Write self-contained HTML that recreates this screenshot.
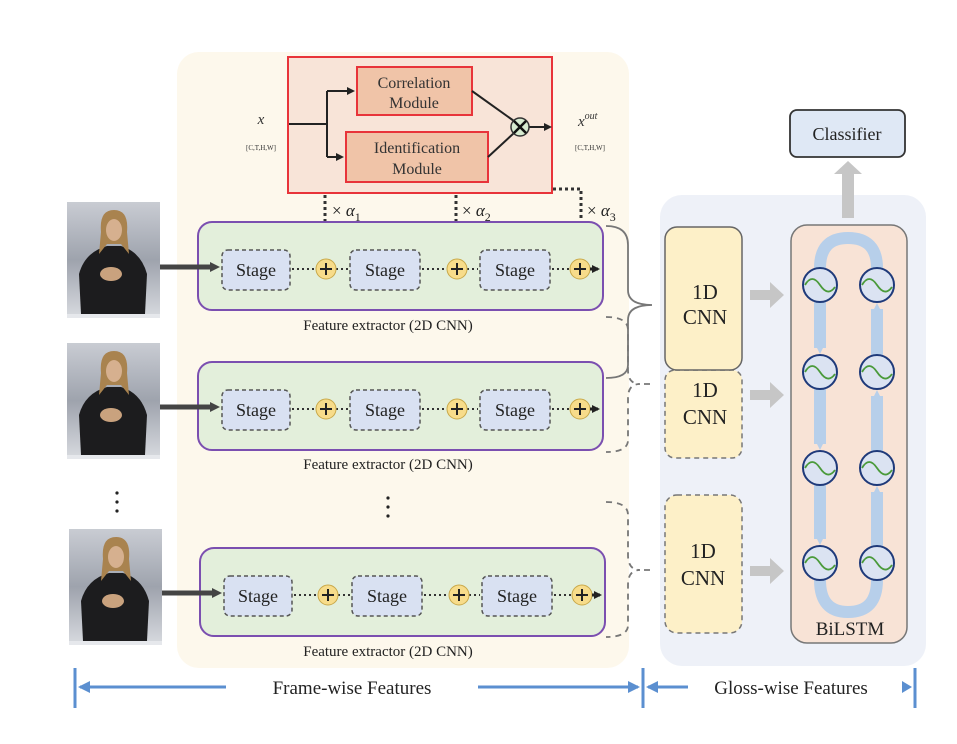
<!DOCTYPE html>
<html><head><meta charset="utf-8"><style>
body{margin:0;background:#fff}
svg{display:block;font-family:"Liberation Serif",serif}
</style></head><body>
<svg width="957" height="744" viewBox="0 0 957 744" xmlns="http://www.w3.org/2000/svg">
<defs>
<linearGradient id="bg" x1="0" y1="0" x2="0" y2="1"><stop offset="0" stop-color="#c9ccd3"/><stop offset="0.5" stop-color="#9ea3ad"/><stop offset="1" stop-color="#d8dbe0"/></linearGradient>
<marker id="ah" markerWidth="8" markerHeight="8" refX="6" refY="4" orient="auto" markerUnits="userSpaceOnUse"><path d="M0,0 L8,4 L0,8z" fill="#222"/></marker>
<marker id="ahd" markerWidth="10" markerHeight="10" refX="8" refY="5" orient="auto" markerUnits="userSpaceOnUse"><path d="M0,0 L10,5 L0,10z" fill="#333"/></marker>
<marker id="ab" markerWidth="12" markerHeight="12" refX="10" refY="6" orient="auto" markerUnits="userSpaceOnUse"><path d="M0,0 L12,6 L0,12z" fill="#5b8fd0"/></marker>
<marker id="lb" markerWidth="12" markerHeight="12" refX="6" refY="6" orient="auto" markerUnits="userSpaceOnUse"><path d="M0,0 L12,6 L0,12z" fill="#b7cfea"/></marker>
<g id="person">
<rect x="0" y="0" width="93" height="116" fill="url(#bg)"/>
<path d="M14,112 L12,72 Q18,50 40,44 L54,44 Q74,50 80,72 L78,112z" fill="#1c1c1e"/>
<path d="M34,30 Q32,8 47,8 Q62,8 60,30 L62,52 L54,42 L40,42 L32,52z" fill="#a9834f"/>
<ellipse cx="47" cy="28" rx="8" ry="11" fill="#d6b08f"/>
<ellipse cx="44" cy="72" rx="11" ry="7" fill="#c9a27e"/>
<rect x="0" y="112" width="93" height="4" fill="#e6e8ec"/>
</g>
<g id="stagerow">
<rect x="0" y="0" width="405" height="88" rx="14" fill="#e3efdb" stroke="#7b4fb0" stroke-width="2"/>
<rect x="24" y="28" width="68" height="40" rx="6" fill="#d9e1f2" stroke="#555" stroke-width="1.5" stroke-dasharray="4,3"/>
<rect x="152" y="28" width="70" height="40" rx="6" fill="#d9e1f2" stroke="#555" stroke-width="1.5" stroke-dasharray="4,3"/>
<rect x="282" y="28" width="70" height="40" rx="6" fill="#d9e1f2" stroke="#555" stroke-width="1.5" stroke-dasharray="4,3"/>
<text x="58" y="54" font-size="18" text-anchor="middle" fill="#222">Stage</text>
<text x="187" y="54" font-size="18" text-anchor="middle" fill="#222">Stage</text>
<text x="317" y="54" font-size="18" text-anchor="middle" fill="#222">Stage</text>
<g stroke="#333" stroke-width="2" stroke-dasharray="2,3"><line x1="94" y1="47" x2="118" y2="47"/><line x1="138" y1="47" x2="150" y2="47"/><line x1="224" y1="47" x2="249" y2="47"/><line x1="269" y1="47" x2="280" y2="47"/><line x1="354" y1="47" x2="372" y2="47"/></g>
<g fill="#f7dc8a" stroke="#c9a94a" stroke-width="1"><circle cx="128" cy="47" r="10"/><circle cx="259" cy="47" r="10"/><circle cx="382" cy="47" r="10"/></g>
<g stroke="#222" stroke-width="2"><path d="M122,47h12M128,41v12M253,47h12M259,41v12M376,47h12M382,41v12"/></g>
<line x1="392" y1="47" x2="400" y2="47" stroke="#222" stroke-width="3" marker-end="url(#ah)"/>
</g>
<g id="cell"><circle r="17" fill="#dbe3f2" stroke="#1f3a7a" stroke-width="2"/><path d="M-15,0 Q-8,-12 0,0 T15,2" fill="none" stroke="#4a9a3a" stroke-width="1.8"/></g>
</defs>

<rect x="177" y="52" width="452" height="616" rx="22" fill="#fdf8ec"/>
<rect x="660" y="195" width="266" height="471" rx="22" fill="#eef1f8"/>

<rect x="288" y="57" width="264" height="136" fill="#f8e4d8" stroke="#e8343a" stroke-width="2"/>
<rect x="357" y="67" width="115" height="48" fill="#f0c4a8" stroke="#e8343a" stroke-width="2"/>
<rect x="346" y="132" width="142" height="50" fill="#f0c4a8" stroke="#e8343a" stroke-width="2"/>
<text x="414" y="88" font-size="16" text-anchor="middle" fill="#333">Correlation</text>
<text x="414" y="108" font-size="16" text-anchor="middle" fill="#333">Module</text>
<text x="417" y="153" font-size="16" text-anchor="middle" fill="#333">Identification</text>
<text x="417" y="174" font-size="16" text-anchor="middle" fill="#333">Module</text>
<g stroke="#222" stroke-width="2" fill="none">
<path d="M289,124 H327 M327,91 V157"/>
<line x1="327" y1="91" x2="353" y2="91" marker-end="url(#ah)"/>
<line x1="327" y1="157" x2="342" y2="157" marker-end="url(#ah)"/>
<path d="M472,91 L514,121 M488,157 L514,133"/>
<line x1="528" y1="127" x2="550" y2="127" marker-end="url(#ah)"/>
</g>
<circle cx="520" cy="127" r="9" fill="#d7ebd0" stroke="#333" stroke-width="1.5"/>
<path d="M514,121 L526,133 M526,121 L514,133" stroke="#111" stroke-width="2.5"/>
<text x="261" y="124" font-size="15" font-style="italic" text-anchor="middle" fill="#333">x</text>
<text x="261" y="150" font-size="7" text-anchor="middle" fill="#333">[C,T,H,W]</text>
<text x="578" y="126" font-size="15" font-style="italic" fill="#333">x<tspan font-size="10" dy="-7">out</tspan></text>
<text x="590" y="150" font-size="7" text-anchor="middle" fill="#333">[C,T,H,W]</text>

<g stroke="#333" stroke-width="3" stroke-dasharray="3,3" fill="none">
<line x1="325" y1="195" x2="325" y2="240" marker-end="url(#ahd)"/>
<line x1="456" y1="195" x2="456" y2="240" marker-end="url(#ahd)"/>
<path d="M553,189 H581 V240" marker-end="url(#ahd)"/>
</g>
<g font-size="17" fill="#222"><text x="332" y="216">× <tspan font-style="italic">α</tspan><tspan font-size="12" dy="5">1</tspan></text>
<text x="462" y="216">× <tspan font-style="italic">α</tspan><tspan font-size="12" dy="5">2</tspan></text>
<text x="587" y="216">× <tspan font-style="italic">α</tspan><tspan font-size="12" dy="5">3</tspan></text></g>

<use href="#stagerow" x="198" y="222"/>
<use href="#stagerow" x="198" y="362"/>
<use href="#stagerow" x="200" y="548"/>
<g font-size="15" fill="#222" text-anchor="middle">
<text x="388" y="330">Feature extractor (2D CNN)</text>
<text x="388" y="469">Feature extractor (2D CNN)</text>
<text x="388" y="656">Feature extractor (2D CNN)</text></g>
<g fill="#222"><circle cx="388" cy="498" r="1.6"/><circle cx="388" cy="507" r="1.6"/><circle cx="388" cy="516" r="1.6"/>
<circle cx="117" cy="493" r="1.6"/><circle cx="117" cy="502" r="1.6"/><circle cx="117" cy="511" r="1.6"/></g>

<use href="#person" x="67" y="202"/>
<use href="#person" x="67" y="343"/>
<use href="#person" x="69" y="529"/>
<g stroke="#444" stroke-width="5"><line x1="160" y1="267" x2="212" y2="267"/><line x1="160" y1="407" x2="212" y2="407"/><line x1="162" y1="593" x2="214" y2="593"/></g>
<g fill="#444"><path d="M210,262 L220,267 L210,272z"/><path d="M210,402 L220,407 L210,412z"/><path d="M212,588 L222,593 L212,598z"/></g>

<path d="M606,226 Q628,226 628,245 V290 Q628,305 652,305 Q628,305 628,320 V365 Q628,378 606,378" fill="none" stroke="#777" stroke-width="1.8"/>
<path d="M606,317 Q628,317 628,330 V370 Q628,384 640,384 Q628,384 628,398 V440 Q628,452 606,452" fill="none" stroke="#777" stroke-width="1.8" stroke-dasharray="6,5"/>
<path d="M606,502 Q628,502 628,515 V555 Q628,570 640,570 Q628,570 628,585 V625 Q628,637 606,637" fill="none" stroke="#777" stroke-width="1.8" stroke-dasharray="6,5"/>
<path d="M644,384 h6 M644,570 h6" stroke="#777" stroke-width="1.8"/>

<rect x="665" y="370" width="77" height="88" rx="10" fill="#fdf0c8" stroke="#777" stroke-width="1.5" stroke-dasharray="5,4"/>
<rect x="665" y="227" width="77" height="143" rx="12" fill="#fdf0c8" stroke="#666" stroke-width="1.5"/>
<rect x="665" y="495" width="77" height="138" rx="12" fill="#fdf0c8" stroke="#777" stroke-width="1.5" stroke-dasharray="5,4"/>
<g font-size="21" fill="#222" text-anchor="middle">
<text x="705" y="299">1D</text><text x="705" y="324">CNN</text>
<text x="705" y="397">1D</text><text x="705" y="424">CNN</text>
<text x="703" y="558">1D</text><text x="703" y="585">CNN</text></g>
<g fill="#c6c6c6"><path d="M750,290 h20 v-8 l14,13 l-14,13 v-8 h-20z"/><path d="M750,390 h20 v-8 l14,13 l-14,13 v-8 h-20z"/><path d="M750,566 h20 v-8 l14,13 l-14,13 v-8 h-20z"/>
<path d="M842,218 v-44 h-8 l14,-13 l14,13 h-8 v44z"/></g>

<rect x="791" y="225" width="116" height="418" rx="16" fill="#f8e3d6" stroke="#777" stroke-width="1.5"/>
<g fill="none" stroke="#b7cfea" stroke-width="12">
<path d="M820,268 Q820,238 848,238 Q877,238 877,268"/>
<path d="M820,580 Q820,612 848,612 Q877,612 877,580"/>
<line x1="820" y1="302" x2="820" y2="348" marker-end="url(#lb)"/>
<line x1="820" y1="389" x2="820" y2="444" marker-end="url(#lb)"/>
<line x1="820" y1="485" x2="820" y2="539" marker-end="url(#lb)"/>
<line x1="877" y1="546" x2="877" y2="492" marker-end="url(#lb)"/>
<line x1="877" y1="451" x2="877" y2="396" marker-end="url(#lb)"/>
<line x1="877" y1="355" x2="877" y2="309" marker-end="url(#lb)"/>
</g>
<use href="#cell" x="820" y="285"/><use href="#cell" x="877" y="285"/>
<use href="#cell" x="820" y="372"/><use href="#cell" x="877" y="372"/>
<use href="#cell" x="820" y="468"/><use href="#cell" x="877" y="468"/>
<use href="#cell" x="820" y="563"/><use href="#cell" x="877" y="563"/>
<text x="850" y="635" font-size="19" text-anchor="middle" fill="#222">BiLSTM</text>

<rect x="790" y="110" width="115" height="47" rx="7" fill="#dfe8f5" stroke="#333" stroke-width="1.8"/>
<text x="847" y="140" font-size="18" text-anchor="middle" fill="#222">Classifier</text>

<g stroke="#5b8fd0" stroke-width="3">
<line x1="75" y1="668" x2="75" y2="708"/><line x1="643" y1="668" x2="643" y2="708"/><line x1="915" y1="668" x2="915" y2="708"/>
<line x1="226" y1="687" x2="80" y2="687" marker-end="url(#ab)"/>
<line x1="478" y1="687" x2="638" y2="687" marker-end="url(#ab)"/>
<line x1="688" y1="687" x2="648" y2="687" marker-end="url(#ab)"/>
</g>
<path d="M902,681 L912,687 L902,693z" fill="#5b8fd0"/>
<text x="352" y="694" font-size="19" text-anchor="middle" fill="#222">Frame-wise Features</text>
<text x="791" y="694" font-size="19" text-anchor="middle" fill="#222">Gloss-wise Features</text>
</svg>
</body></html>
